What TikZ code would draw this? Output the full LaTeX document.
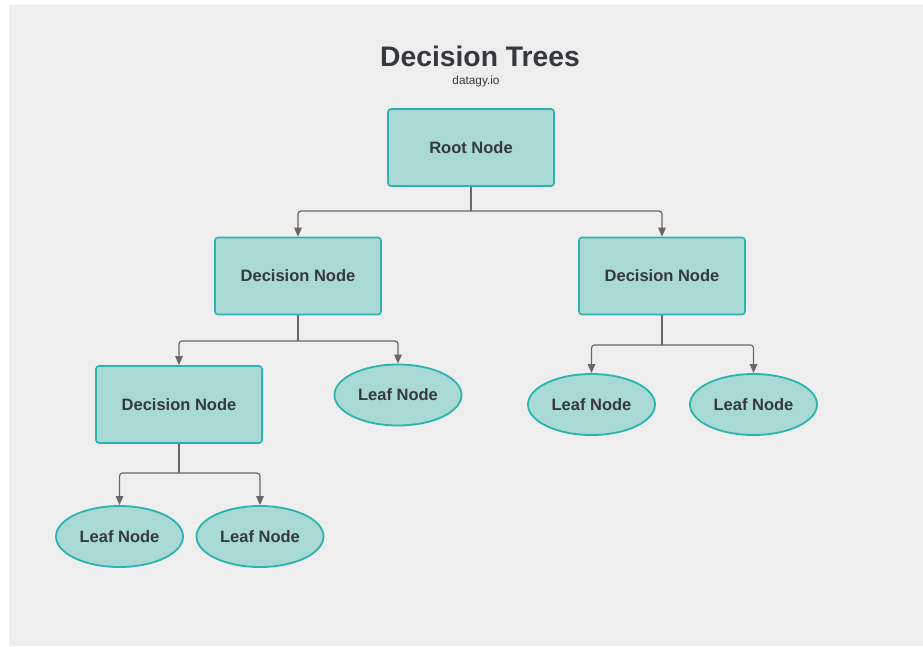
\documentclass[tikz,border=0pt]{standalone}
\usepackage{fontspec}
\setmainfont{Liberation Sans}
\usetikzlibrary{shapes.geometric,arrows.meta}
\definecolor{bgpanel}{HTML}{EEEEEE}
\definecolor{nodefill}{HTML}{A9D9D4}
\definecolor{nodeedge}{HTML}{2DB3AE}
\definecolor{linegrey}{HTML}{676767}
\definecolor{txt}{HTML}{35383D}
\tikzset{
  boxnode/.style={draw=nodeedge, fill=nodefill, line width=1.6pt, rounded corners=3pt,
    minimum width=166pt, minimum height=77pt, inner sep=0pt,
    font=\fontsize{16.5}{18}\selectfont\bfseries, text=txt},
  leafnode/.style={ellipse, draw=nodeedge, fill=nodefill, line width=1.8pt,
    minimum width=127pt, minimum height=61pt, inner sep=0pt,
    font=\fontsize{16.5}{18}\selectfont\bfseries, text=txt},
  conn/.style={draw=linegrey, line width=1.2pt, rounded corners=3pt,
    -{Triangle[width=7.5pt,length=9pt]}},
  connplain/.style={draw=linegrey, line width=1.2pt}
}
\begin{document}
\begin{tikzpicture}[x=1pt,y=-1pt]
\useasboundingbox (0,0) rectangle (923,646);
\fill[white] (0,0) rectangle (923,646);
\fill[bgpanel] (9,5) rectangle (923,646);

\node[font=\fontsize{28.3}{30}\selectfont\bfseries, text=txt] (title) at (480,56) {Decision Trees};
\node[font=\fontsize{11.8}{13}\selectfont, text=txt] (sub) at (476,81) {datagy.io};

\node[boxnode] (root) at (471,147.5) {Root Node};
\node[boxnode] (dl) at (298,276) {Decision Node};
\node[boxnode] (dr) at (662,276) {Decision Node};
\node[boxnode] (dll) at (179,404.5) {Decision Node};

\node[leafnode] (lm) at (398,395) {Leaf Node};
\node[leafnode] (lr1) at (591.5,404.5) {Leaf Node};
\node[leafnode] (lr2) at (753.5,404.5) {Leaf Node};
\node[leafnode] (lb1) at (119.5,536.5) {Leaf Node};
\node[leafnode] (lb2) at (260,536.5) {Leaf Node};

\coordinate (j1) at (471,211);
\coordinate (j2) at (298,341);
\coordinate (j3) at (662,345);
\coordinate (j4) at (179,473);

\draw[connplain] (root.south) -- (j1);
\draw[conn] (j1) -| (dl.north);
\draw[conn] (j1) -| (dr.north);

\draw[connplain] (dl.south) -- (j2);
\draw[conn] (j2) -| (dll.north);
\draw[conn] (j2) -| (lm.north);

\draw[connplain] (dr.south) -- (j3);
\draw[conn] (j3) -| (lr1.north);
\draw[conn] (j3) -| (lr2.north);

\draw[connplain] (dll.south) -- (j4);
\draw[conn] (j4) -| (lb1.north);
\draw[conn] (j4) -| (lb2.north);
\end{tikzpicture}
\end{document}
